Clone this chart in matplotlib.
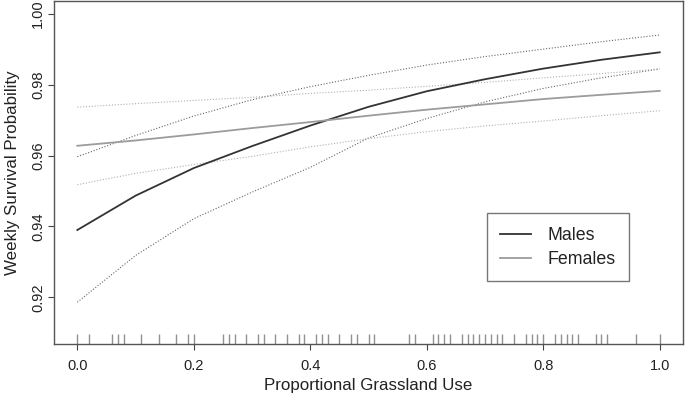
import matplotlib
matplotlib.use("Agg")
import matplotlib.pyplot as plt
import numpy as np

plt.rcParams['font.family'] = ['Liberation Sans', 'DejaVu Sans']

# predicted weekly survival vs proportional grassland use
grass = [0.0, 0.1, 0.2, 0.3, 0.4, 0.5, 0.6, 0.7, 0.8, 0.9, 1.0]
male_fit = [0.9390, 0.9487, 0.9565, 0.9627, 0.9685, 0.9738, 0.9782, 0.9816, 0.9846, 0.9871, 0.9892]
male_upr = [0.9597, 0.9657, 0.9712, 0.9758, 0.9795, 0.9827, 0.9856, 0.9880, 0.9901, 0.9922, 0.9941]
male_lwr = [0.9186, 0.9318, 0.9422, 0.9497, 0.9567, 0.9650, 0.9705, 0.9752, 0.9790, 0.9820, 0.9845]
female_fit = [0.9628, 0.9643, 0.9660, 0.9678, 0.9695, 0.9713, 0.9730, 0.9745, 0.9760, 0.9772, 0.9783]
female_upr = [0.9737, 0.9747, 0.9756, 0.9765, 0.9776, 0.9785, 0.9796, 0.9807, 0.9820, 0.9832, 0.9845]
female_lwr = [0.9518, 0.9550, 0.9575, 0.9598, 0.9625, 0.9648, 0.9668, 0.9684, 0.9698, 0.9713, 0.9727]

# observed grassland use (rug)
rug_x = [0.00, 0.02, 0.06, 0.07, 0.08, 0.11, 0.14, 0.17, 0.19, 0.20, 0.25, 0.26, 0.27,
         0.29, 0.31, 0.32, 0.34, 0.36, 0.38, 0.39, 0.41, 0.42, 0.43, 0.45, 0.47, 0.48,
         0.50, 0.51, 0.57, 0.58, 0.61, 0.62, 0.63, 0.64, 0.66, 0.67, 0.68, 0.69, 0.70,
         0.71, 0.72, 0.73, 0.75, 0.77, 0.78, 0.79, 0.80, 0.82, 0.83, 0.84, 0.85, 0.86,
         0.89, 0.90, 0.91, 0.96, 1.00]

xticks = [0.0, 0.2, 0.4, 0.6, 0.8, 1.0]
yticks = [0.92, 0.94, 0.96, 0.98, 1.00]

fig = plt.figure(figsize=(6.85, 3.98), dpi=100)
ax = fig.add_axes([54/685, 54/398, 629/685, 343/398])

dot = (0, (1, 1.6))
ax.plot(grass, male_upr, color='#666666', lw=0.8, ls=dot)
ax.plot(grass, male_lwr, color='#666666', lw=0.8, ls=dot)
ax.plot(grass, female_upr, color='#b0b0b0', lw=0.8, ls=dot)
ax.plot(grass, female_lwr, color='#b0b0b0', lw=0.8, ls=dot)
ax.plot(grass, male_fit, color='#333333', lw=1.3, label='Males')
ax.plot(grass, female_fit, color='#9c9c9c', lw=1.3, label='Females')

ax.vlines(rug_x, 0, 0.03, transform=ax.get_xaxis_transform(), color='#909090', lw=1)

ax.set_xlim(-0.04, 1.04)
ax.set_ylim(0.9068, 1.0037)
ax.set_xticks(xticks)
ax.set_xticklabels(['%.1f' % v for v in xticks])
ax.set_yticks(yticks)
ax.set_yticklabels(['%.2f' % v for v in yticks], rotation=90, va='center')
ax.tick_params(length=4, width=0.8, color='#444444', labelsize=10.5, labelcolor='#222222')
ax.tick_params(axis='x', pad=6.5)
ax.tick_params(axis='y', pad=2.5)
for s in ax.spines.values():
    s.set_color('#555555')
    s.set_linewidth(1)

ax.set_xlabel('Proportional Grassland Use', fontsize=12.2, color='#222222', labelpad=4)
ax.set_ylabel('Weekly Survival Probability', fontsize=12.2, color='#222222', labelpad=8)

leg = ax.legend(loc='lower left', bbox_to_anchor=((487-54)/629, (344-281)/344),
                fontsize=12.8, frameon=True, fancybox=False, borderpad=0.75,
                labelspacing=0.4, handlelength=1.75, handletextpad=0.9, borderaxespad=0)
leg.get_frame().set_edgecolor('#555555')
leg.get_frame().set_linewidth(1)
for t in leg.get_texts():
    t.set_color('#222222')

fig.savefig('out.png', dpi=100)
